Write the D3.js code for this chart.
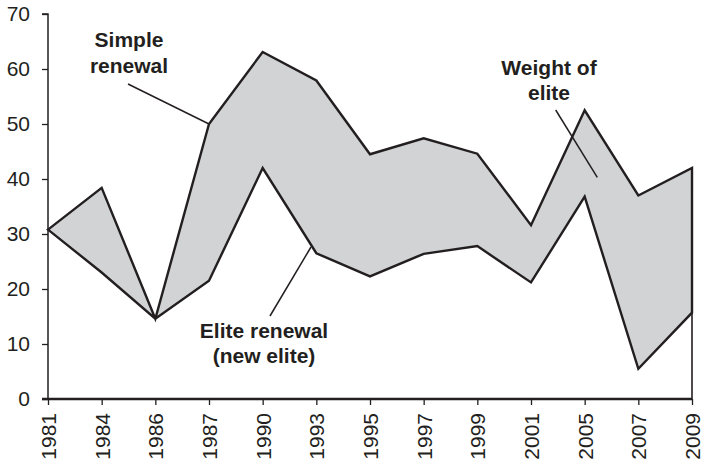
<!DOCTYPE html>
<html>
<head>
<meta charset="utf-8">
<script src="https://cdn.jsdelivr.net/npm/d3@7"></script>
<style>
  html, body { margin: 0; padding: 0; background: #fff; }
  svg { display: block; }
  text { font-family: "Liberation Sans", Arial, Helvetica, sans-serif; fill: #231f20; }
</style>
</head>
<body>
<svg id="chart" width="701" height="462"></svg>
<script>
const years = ["1981","1984","1986","1987","1990","1993","1995","1997","1999","2001","2005","2007","2009"];
const simpleRenewal = [30.8, 38.4, 14.6, 50.0, 63.1, 57.9, 44.5, 47.4, 44.6, 31.6, 52.5, 37.0, 42.0];
const eliteRenewal  = [30.8, 23.0, 14.6, 21.5, 42.0, 26.5, 22.3, 26.4, 27.8, 21.2, 36.8, 5.5, 15.7];
const yTicks = [0, 10, 20, 30, 40, 50, 60, 70];

const ink = "#231f20";
const svg = d3.select("#chart");
const x = d3.scalePoint().domain(years).range([48, 692]);
const y = d3.scaleLinear().domain([0, 70]).range([399, 14]);

const data = years.map((yr, i) => ({ yr, hi: simpleRenewal[i], lo: eliteRenewal[i] }));

// thin closing line on the right
svg.append("line")
  .attr("x1", x("2009")).attr("x2", x("2009"))
  .attr("y1", y(0)).attr("y2", y(simpleRenewal[12]))
  .attr("stroke", ink).attr("stroke-width", 1.6);

// filled band
const area = d3.area().x(d => x(d.yr)).y0(d => y(d.lo)).y1(d => y(d.hi));
svg.append("path").datum(data)
  .attr("d", area)
  .attr("fill", "#d1d3d4")
  .attr("stroke", ink).attr("stroke-width", 2.4).attr("stroke-linejoin", "miter");

// y axis
const yAxis = svg.append("g").attr("transform", "translate(48,0)")
  .call(d3.axisLeft(y).tickValues(yTicks).tickSize(6).tickPadding(12).tickFormat(d3.format("d")));
yAxis.select(".domain").attr("stroke", ink).attr("stroke-width", 1.5).attr("d", "M-6," + y(70) + "H0V" + y(0));
yAxis.selectAll(".tick line").attr("stroke", ink).attr("stroke-width", 1.3);
yAxis.selectAll(".tick text").style("font-size", "21px").attr("fill", ink)
  .style("font-family", "'Liberation Sans', Arial, sans-serif");

// x axis
const xAxis = svg.append("g").attr("transform", "translate(0," + y(0) + ")")
  .call(d3.axisBottom(x).tickSize(6).tickPadding(8));
xAxis.select(".domain").attr("stroke", ink).attr("stroke-width", 2.6).attr("d", "M42,0H692");
xAxis.selectAll(".tick line").attr("stroke", ink).attr("stroke-width", 1.3);
xAxis.selectAll(".tick text")
  .style("font-size", "21px").attr("fill", ink)
  .style("font-family", "'Liberation Sans', Arial, sans-serif")
  .attr("text-anchor", "end")
  .attr("transform", "rotate(-90)")
  .attr("x", -14).attr("y", 0).attr("dy", "0.36em");

// annotations
const ann = svg.append("g").style("font-size", "21px").style("font-weight", "bold").attr("text-anchor", "middle");
function label(lines, cx, y0, lh) {
  lines.forEach((t, i) => ann.append("text").attr("x", cx).attr("y", y0 + i * lh).text(t));
}
label(["Simple", "renewal"], 129, 47, 26);
label(["Elite renewal", "(new elite)"], 264, 338, 25);
label(["Weight of", "elite"], 549, 75, 25);

const leaders = [
  [128, 84, x("1987"), y(simpleRenewal[3])],
  [270, 316, 311, 247],
  [555.7, 110, 597.3, 177.3]
];
svg.selectAll(".leader").data(leaders).enter().append("line")
  .attr("x1", d => d[0]).attr("y1", d => d[1]).attr("x2", d => d[2]).attr("y2", d => d[3])
  .attr("stroke", ink).attr("stroke-width", 1.5);
</script>
</body>
</html>
